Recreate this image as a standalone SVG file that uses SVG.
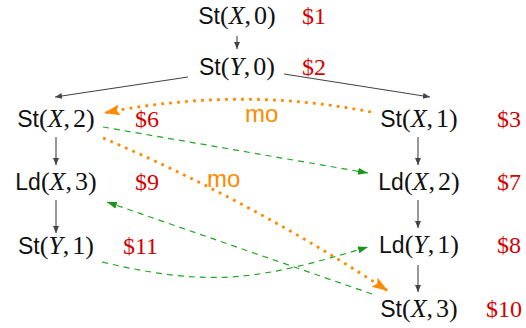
<svg xmlns="http://www.w3.org/2000/svg" width="526" height="328" viewBox="0 0 526 328">
<defs>
<style>
.n{font-family:"Liberation Serif",serif;font-size:26px;fill:#111}
.s{font-family:"Liberation Sans",sans-serif;font-size:23px}
.i{font-style:italic}
.r{font-family:"Liberation Serif",serif;font-size:24px;fill:#d40000}
.mo{font-family:"Liberation Sans",sans-serif;font-size:24px;fill:#ff8a00}
.g{fill:none;stroke:#444;stroke-width:1.1}
.gr{fill:none;stroke:#22a822;stroke-width:1.2;stroke-dasharray:6 5}
.or{fill:none;stroke:#ff8a00;stroke-width:2.8;stroke-dasharray:2.8 5.2}
</style>
<marker id="ag" markerUnits="userSpaceOnUse" markerWidth="8" markerHeight="8" refX="7" refY="3" orient="auto"><path d="M0,0 L7,3 L0,6 Z" fill="#444"/></marker>
<marker id="agr" markerUnits="userSpaceOnUse" markerWidth="12" markerHeight="10" refX="10" refY="3.5" orient="auto"><path d="M0,0 L10,3.5 L0,7 Z" fill="#1a961a"/></marker>
<marker id="aor" markerUnits="userSpaceOnUse" markerWidth="18" markerHeight="14" refX="16" refY="5.5" orient="auto"><path d="M0,0 L16,5.5 L0,11 L3,5.5 Z" fill="#ff8a00"/></marker>
</defs>
<rect width="526" height="328" fill="#fff"/>
<g id="connectors">
<path class="g" d="M237,36 L237,49" marker-end="url(#ag)"/>
<path class="g" d="M188,77 L55,97" marker-end="url(#ag)"/>
<path class="g" d="M284,74 L430,97" marker-end="url(#ag)"/>
<path class="g" d="M56,137 L56,165" marker-end="url(#ag)"/>
<path class="g" d="M56,200 L56,233" marker-end="url(#ag)"/>
<path class="g" d="M418,137 L418,165" marker-end="url(#ag)"/>
<path class="g" d="M418,200 L418,228" marker-end="url(#ag)"/>
<path class="g" d="M418,265 L418,292" marker-end="url(#ag)"/>
<path class="or" d="M371,112 Q240,86 104,113" marker-end="url(#aor)"/>
<path class="or" d="M103,138 Q251,201 388,291" marker-end="url(#aor)"/>
<path class="gr" d="M103,127 L368,173" marker-end="url(#agr)"/>
<path class="gr" d="M102,262 C212,288 258,280 368,247" marker-end="url(#agr)"/>
<path class="gr" d="M372,294 L107,202" marker-end="url(#agr)"/>
<text class="mo" x="245" y="122">mo</text>
<text class="mo" x="207" y="187">mo</text>
</g>
<g id="n1"><text class="n" x="237" y="24" text-anchor="middle"><tspan class="s">St</tspan>(<tspan class="i">X</tspan>,<tspan dx="3">0</tspan>)</text><text class="r" x="302" y="24">$1</text></g>
<g id="n2"><text class="n" x="237" y="75" text-anchor="middle"><tspan class="s">St</tspan>(<tspan class="i">Y</tspan>,<tspan dx="3">0</tspan>)</text><text class="r" x="302" y="75">$2</text></g>
<g id="n6"><text class="n" x="56" y="127" text-anchor="middle"><tspan class="s">St</tspan>(<tspan class="i">X</tspan>,<tspan dx="3">2</tspan>)</text><text class="r" x="135" y="127">$6</text></g>
<g id="n3"><text class="n" x="419" y="127" text-anchor="middle"><tspan class="s">St</tspan>(<tspan class="i">X</tspan>,<tspan dx="3">1</tspan>)</text><text class="r" x="497" y="127">$3</text></g>
<g id="n9"><text class="n" x="56" y="190" text-anchor="middle"><tspan class="s">Ld</tspan>(<tspan class="i">X</tspan>,<tspan dx="3">3</tspan>)</text><text class="r" x="135" y="190">$9</text></g>
<g id="n7"><text class="n" x="419" y="190" text-anchor="middle"><tspan class="s">Ld</tspan>(<tspan class="i">X</tspan>,<tspan dx="3">2</tspan>)</text><text class="r" x="497" y="190">$7</text></g>
<g id="n11"><text class="n" x="56" y="254" text-anchor="middle"><tspan class="s">St</tspan>(<tspan class="i">Y</tspan>,<tspan dx="3">1</tspan>)</text><text class="r" x="123" y="254">$11</text></g>
<g id="n8"><text class="n" x="419" y="253" text-anchor="middle"><tspan class="s">Ld</tspan>(<tspan class="i">Y</tspan>,<tspan dx="3">1</tspan>)</text><text class="r" x="497" y="253">$8</text></g>
<g id="n10"><text class="n" x="419" y="317" text-anchor="middle"><tspan class="s">St</tspan>(<tspan class="i">X</tspan>,<tspan dx="3">3</tspan>)</text><text class="r" x="486" y="317">$10</text></g>
</svg>
